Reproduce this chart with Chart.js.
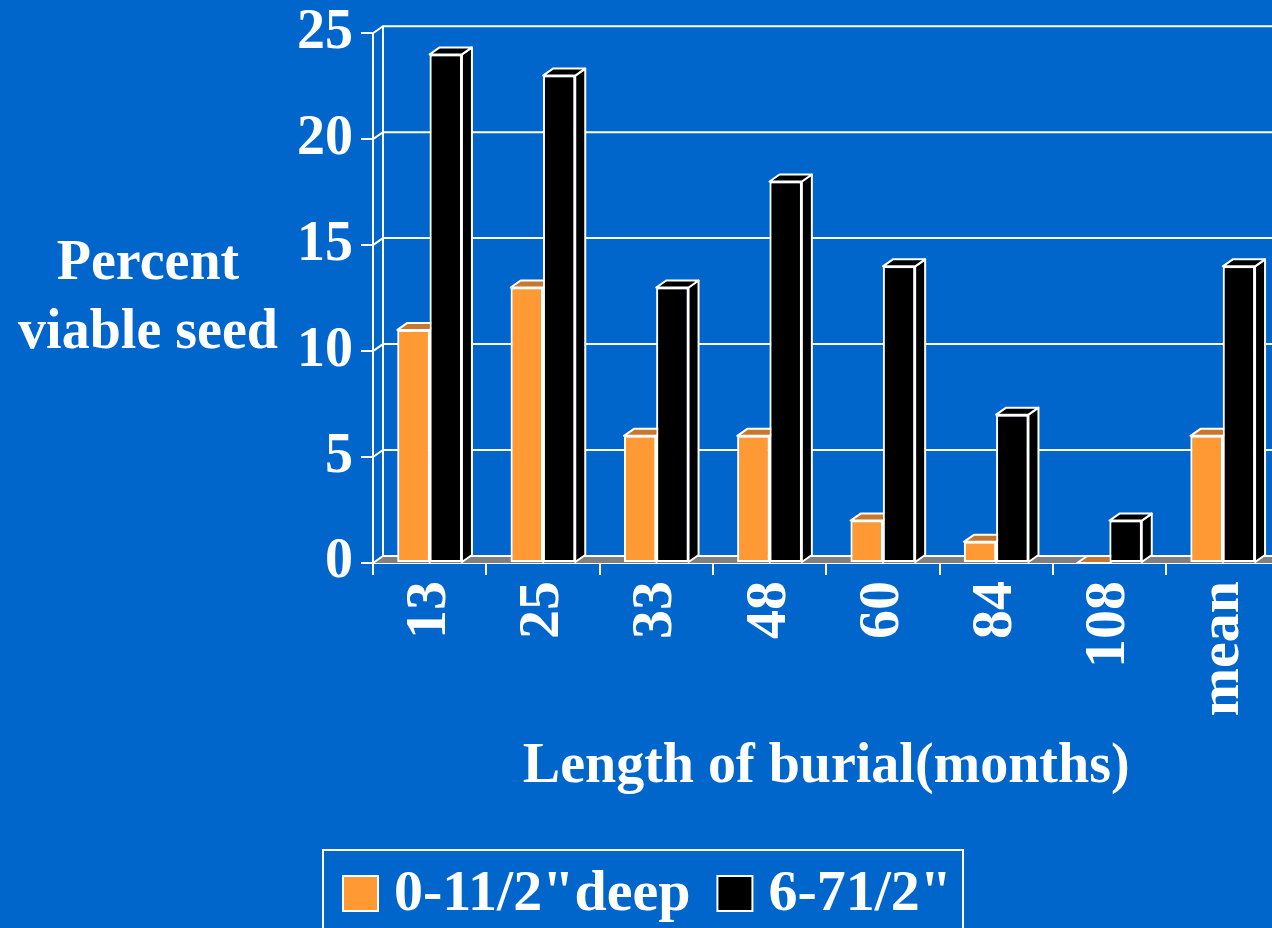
<!DOCTYPE html>
<html>
<head>
<meta charset="utf-8">
<title>Percent viable seed by length of burial</title>
<script src="https://cdn.jsdelivr.net/npm/chart.js@4.4.1/dist/chart.umd.min.js"></script>
<style>
  html, body { margin: 0; padding: 0; background: #0066cc; overflow: hidden; }
  #wrap { position: absolute; left: 0; top: 0; width: 1299px; height: 928px; }
</style>
</head>
<body>
<div id="wrap"><canvas id="seedChart" width="1299" height="928"></canvas></div>
<script>
// Chart data
const months = ['13', '25', '33', '48', '60', '84', '108', 'mean'];
const shallowSeed = [11, 13, 6, 6, 2, 1, 0, 6];
const deepSeed = [24, 23, 13, 18, 14, 7, 2, 14];
const seriesNames = ['0-11/2"deep', '6-71/2"'];
const yTicks = [0, 5, 10, 15, 20, 25];
const yTitleLines = ['Percent', 'viable seed'];
const xTitle = 'Length of burial(months)';

const FONT = "'Liberation Serif', 'Times New Roman', serif";
const DX = 10, DY = -7;   // 3d depth offset

function drawFaces(ctx, bar, ds) {
  const p = bar.getProps(['x', 'y', 'base', 'width'], true);
  const l = p.x - p.width / 2, r = p.x + p.width / 2;
  ctx.strokeStyle = '#ffffff';
  ctx.lineWidth = 2;
  ctx.lineJoin = 'round';
  // side
  ctx.fillStyle = ds.sideColor;
  ctx.beginPath();
  ctx.moveTo(r, p.y);
  ctx.lineTo(r + DX, p.y + DY);
  ctx.lineTo(r + DX, p.base + DY);
  ctx.lineTo(r, p.base);
  ctx.closePath();
  ctx.fill();
  ctx.stroke();
  // top
  ctx.fillStyle = ds.topColor;
  ctx.beginPath();
  ctx.moveTo(l, p.y);
  ctx.lineTo(l + DX, p.y + DY);
  ctx.lineTo(r + DX, p.y + DY);
  ctx.lineTo(r, p.y);
  ctx.closePath();
  ctx.fill();
  ctx.stroke();
}

// back wall, floor, 3d bar faces, y title and legend
const depthPlugin = {
  id: 'depth',
  beforeDatasetsDraw(chart) {
    const ctx = chart.ctx;
    const a = chart.chartArea;
    const y = chart.scales.y;
    const farRight = chart.width + 20;
    ctx.save();
    // floor
    ctx.fillStyle = '#808080';
    ctx.beginPath();
    ctx.moveTo(a.left, a.bottom);
    ctx.lineTo(a.left + DX, a.bottom + DY);
    ctx.lineTo(farRight, a.bottom + DY);
    ctx.lineTo(farRight, a.bottom);
    ctx.closePath();
    ctx.fill();
    // back wall grid
    ctx.strokeStyle = '#ffffff';
    ctx.lineWidth = 2;
    yTicks.forEach(v => {
      const py = y.getPixelForValue(v);
      ctx.beginPath();
      ctx.moveTo(a.left, py);
      ctx.lineTo(a.left + DX, py + DY);
      ctx.lineTo(farRight, py + DY);
      ctx.stroke();
    });
    ctx.beginPath();
    ctx.moveTo(a.left + DX, a.top + DY);
    ctx.lineTo(a.left + DX, a.bottom + DY);
    ctx.stroke();
    ctx.restore();
  },
  afterDatasetsDraw(chart) {
    const ctx = chart.ctx;
    ctx.save();
    // redraw each bar front with its faces, series in order, so the
    // deeper series hides the side of the shallow one
    for (let i = 0; i < months.length; i++) {
      chart.data.datasets.forEach((ds, d) => {
        const bar = chart.getDatasetMeta(d).data[i];
        bar.draw(ctx);
        drawFaces(ctx, bar, ds);
      });
    }
    ctx.restore();
  },
  afterDraw(chart) {
    const ctx = chart.ctx;
    ctx.save();
    ctx.fillStyle = '#ffffff';
    ctx.font = 'bold 56px ' + FONT;
    ctx.textAlign = 'center';
    ctx.textBaseline = 'middle';
    ctx.fillText(yTitleLines[0], 148, 265);
    ctx.fillText(yTitleLines[1], 148, 334);

    // legend
    ctx.font = 'bold 58px ' + FONT;
    ctx.textAlign = 'left';
    ctx.strokeStyle = '#ffffff';
    ctx.lineWidth = 2;
    ctx.strokeRect(323, 850, 640, 120);
    let x = 343;
    const cy = 893;
    chart.data.datasets.forEach((ds, d) => {
      ctx.fillStyle = ds.backgroundColor;
      ctx.fillRect(x, cy - 17, 35, 35);
      ctx.strokeRect(x, cy - 17, 35, 35);
      x += 35 + 16;
      ctx.fillStyle = '#ffffff';
      ctx.fillText(ds.label, x, cy + 2);
      x += ctx.measureText(ds.label).width + 27;
    });
    ctx.restore();
  }
};

const ctx = document.getElementById('seedChart').getContext('2d');
const chart = new Chart(ctx, {
  type: 'bar',
  data: {
    labels: months,
    datasets: [{
      label: seriesNames[0],
      data: shallowSeed,
      backgroundColor: '#ff9933',
      topColor: '#c8782e',
      sideColor: '#c8782e',
      borderColor: '#ffffff',
      borderWidth: 2,
      borderSkipped: false
    }, {
      label: seriesNames[1],
      data: deepSeed,
      backgroundColor: '#000000',
      topColor: '#000000',
      sideColor: '#000000',
      borderColor: '#ffffff',
      borderWidth: 2,
      borderSkipped: false
    }]
  },
  options: {
    responsive: false,
    animation: false,
    barPercentage: 1,
    categoryPercentage: 0.57,
    layout: { padding: { top: 28, right: 10, bottom: 71, left: 0 } },
    plugins: {
      tooltip: { enabled: false },
      legend: { display: false }
    },
    scales: {
      x: {
        grid: { display: true, drawOnChartArea: false, offset: true, color: '#ffffff', lineWidth: 2, tickLength: 12 },
        border: { display: true, color: '#ffffff', width: 2 },
        ticks: {
          color: '#ffffff',
          font: { family: FONT, size: 58, weight: 'bold' },
          minRotation: 90,
          maxRotation: 90,
          padding: 6
        },
        title: {
          display: true,
          text: xTitle,
          color: '#ffffff',
          font: { family: FONT, size: 56, weight: 'bold' },
          padding: { top: 0, bottom: 56 }
        },
        afterFit(scale) { scale.height = 294; }
      },
      y: {
        min: 0,
        max: 25,
        grid: { display: true, drawOnChartArea: false, color: '#ffffff', lineWidth: 2, tickLength: 12 },
        border: { display: true, color: '#ffffff', width: 2 },
        ticks: {
          stepSize: 5,
          color: '#ffffff',
          font: { family: FONT, size: 56, weight: 'bold', lineHeight: 0.9 },
          padding: 8
        },
        afterFit(scale) { scale.width = 373; }
      }
    }
  },
  plugins: [depthPlugin]
});
</script>
</body>
</html>
